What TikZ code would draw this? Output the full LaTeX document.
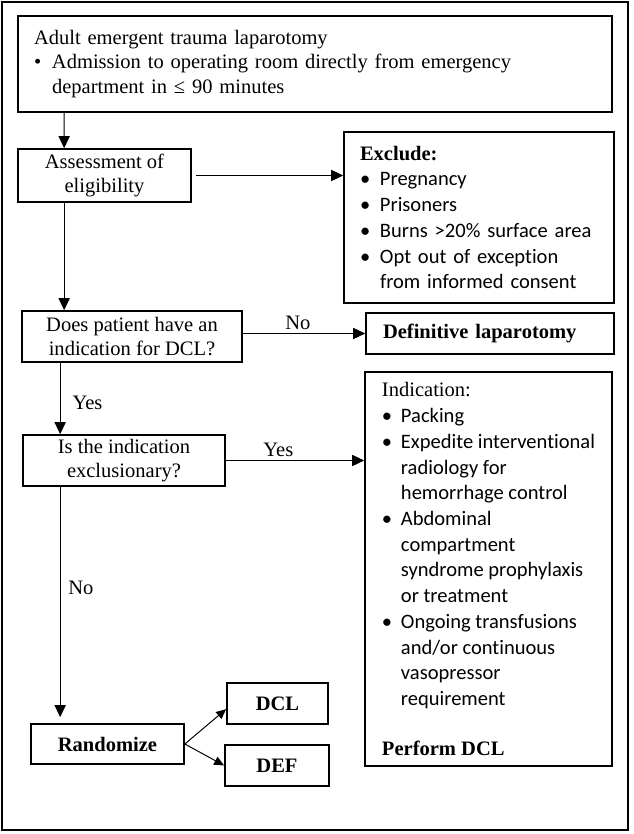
\documentclass[tikz,border=0pt]{standalone}
\usepackage{fontspec}
\setmainfont{Liberation Serif}
\newfontfamily\calib[Ligatures=NoCommon]{Carlito}
\usetikzlibrary{arrows.meta}
\newcommand{\itm}[2][0.43cm]{\makebox[#1][l]{\textbullet}#2}

\begin{document}
\begin{tikzpicture}[
	box/.style={draw, line width=1.2pt, inner sep=0pt, font=\fontsize{14.6pt}{17.1pt}\selectfont},
	lst/.style={box, font=\calib\fontsize{14.6pt}{18.3pt}\selectfont, align=left},
	arr/.style={-{Triangle[length=0.3cm,width=0.28cm]}, line width=0.7pt},
	arrs/.style={-{Triangle[length=0.25cm,width=0.22cm]}, line width=0.7pt},
	lbl/.style={inner sep=2.5pt, font=\fontsize{14.6pt}{17.1pt}\selectfont}]
		\useasboundingbox (0,0) rectangle (15.825,-20.85);
		\draw[line width=1.6pt] (0.05,-0.05) rectangle (15.7,-20.75);
		
		\node[box, align=left, text width=14.05cm, inner xsep=0.4cm, minimum height=2.4cm, font=\fontsize{14.6pt}{17.6pt}\selectfont] (top)at(7.875,-1.6) {Adult emergent trauma laparotomy\\
			\itm[0.45cm]{Admission to operating room directly from emergency}\\
			\hspace*{0.45cm}department in ≤ 90 minutes};
		\node[box, align=center, minimum width=4.325cm, minimum height=1.325cm] (assess)at(2.6125,-4.3875) {Assessment of\\eligibility};
		\node[lst, text width=5.95cm, inner xsep=0.4cm, minimum height=4.275cm] (exclude)at(11.975,-5.4375) {{\rmfamily\bfseries Exclude:}\\
			\itm[0.5cm]{Pregnancy}\\
			\itm[0.5cm]{Prisoners}\\
			\itm[0.5cm]{Burns >20\% surface area}\\
			\itm[0.5cm]{Opt out of exception}\\
			\hspace*{0.5cm}from informed consent};
		\node[box, align=center, minimum width=5.5cm, minimum height=1.275cm] (does)at(3.3,-8.4125) {Does patient have an\\indication for DCL?};
		\node[box, align=left, text width=5.35cm, inner xsep=0.425cm, minimum height=1.025cm] (definitive)at(12.25,-8.3375) {\bfseries Definitive laparotomy};
		\node[box, align=center, minimum width=5.05cm, minimum height=1.275cm] (isexcl)at(3.1,-11.5125) {Is the indication\\exclusionary?};
		\node[lst, minimum width=6.175cm, minimum height=9.85cm] (indication)at(12.2125,-14.225) {{\rmfamily Indication:}\\
			\itm[0.475cm]{Packing}\\
			\itm[0.475cm]{Expedite interventional}\\
			\hspace*{0.475cm}radiology for\\
			\hspace*{0.475cm}hemorrhage control\\
			\itm[0.475cm]{Abdominal}\\
			\hspace*{0.475cm}compartment\\
			\hspace*{0.475cm}syndrome prophylaxis\\
			\hspace*{0.475cm}or treatment\\
			\itm[0.475cm]{Ongoing transfusions}\\
			\hspace*{0.475cm}and/or continuous\\
			\hspace*{0.475cm}vasopressor\\
			\hspace*{0.475cm}requirement\\[17pt]
			{\rmfamily\bfseries Perform DCL}};
		\node[box, minimum width=3.825cm, minimum height=1cm] (randomize)at(2.6875,-18.6) {\bfseries Randomize};
		\node[box, minimum width=2.525cm, minimum height=1.025cm] (dcl)at(6.9375,-17.5875) {\bfseries DCL};
		\node[box, minimum width=2.6cm, minimum height=1.025cm] (def)at(6.925,-19.1375) {\bfseries DEF};
		
		\draw[arr] ([xshift=1.175cm]top.south west) -- ([xshift=1.175cm]assess.north west);
		\draw[arr] ([xshift=0.1cm]assess.east) -- (assess.east -| exclude.west);
		\draw[arr] ([xshift=1.175cm]assess.south west) -- ([xshift=1.175cm]assess.south west |- does.north);
		\draw[arr] (does.east |- definitive.west) -- (definitive.west) node[lbl, pos=0.45, above] {No};
		\draw[arr] ([xshift=0.975cm]does.south west) -- ([xshift=0.975cm]does.south west |- isexcl.north) node[lbl, pos=0.56, right=6pt] {Yes};
		\draw[arr] (isexcl.east) -- (isexcl.east -| indication.west) node[lbl, pos=0.38, above] {Yes};
		\draw[arr] ([xshift=0.95cm]isexcl.south west) -- ([xshift=0.95cm, yshift=0.15cm]isexcl.south west |- randomize.north) node[lbl, pos=0.44, right=3pt] {No};
		\draw[arrs] (randomize.east) -- ([yshift=-0.14cm]dcl.west);
		\draw[arrs] (randomize.east) -- (def.west);
		
		\end{tikzpicture}
\end{document}
